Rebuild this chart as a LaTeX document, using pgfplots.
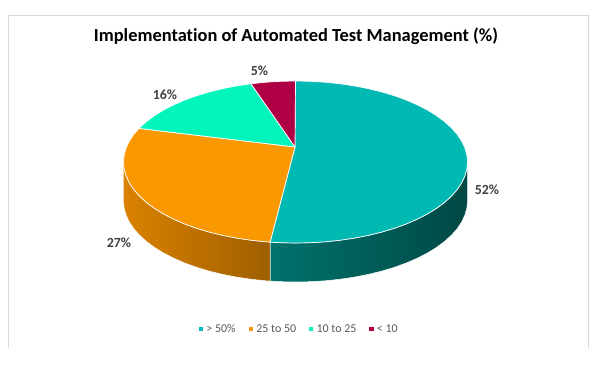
\documentclass[border=0pt]{standalone}
\usepackage{pgfplots}
\pgfplotsset{compat=1.18}
\usepackage{fontspec}
\setmainfont{Carlito}[Ligatures=NoCommon]
\definecolor{cTeal}{RGB}{0,185,178}
\definecolor{cOrange}{RGB}{249,152,0}
\definecolor{cMint}{RGB}{2,245,187}
\definecolor{cCrimson}{RGB}{176,0,69}
\definecolor{cTealL}{RGB}{0,114,109}
\definecolor{cTealD}{RGB}{0,72,68}
\definecolor{cOrangeL}{RGB}{218,130,0}
\definecolor{cOrangeD}{RGB}{158,94,0}
\definecolor{cLabel}{RGB}{64,64,64}
\definecolor{cLegend}{RGB}{89,89,89}
\definecolor{cFrame}{RGB}{217,217,217}
\newcommand{\lgap}{\rule{9.5bp}{0pt}}
\begin{document}
\begin{tikzpicture}
\begin{axis}[
  width=595bp, height=370bp, scale only axis,
  xmin=0, xmax=595, ymin=0, ymax=370, y dir=reverse,
  hide axis, clip=false,
  legend image code/.code={\fill[#1,draw=none] (0bp,-2.1bp) rectangle (4.2bp,2.1bp);},
  legend columns=4,
  legend style={at={(axis cs:300,329)}, anchor=center, draw=none, fill=none,
    font=\fontsize{12}{14}\selectfont\color{cLegend},
    column sep=0pt,
    nodes={inner xsep=3.4bp, inner ysep=1bp}},
]
% background and frame
\addplot[fill=white, draw=none, forget plot] coordinates {(0,0) (595,0) (595,370) (0,370)} -- cycle;
\addplot[draw=cFrame, line width=0.8bp, forget plot] coordinates {(8,348) (8,15) (588,15) (588,348)};
% side of the > 50% slice
\addplot[draw=white, line width=0.5bp, left color=cTealL, middle color=cTealD, right color=cTealD, forget plot] coordinates {
(467.5,162) (466.85,169.06) (464.89,176.06) (461.63,182.96) (457.13,189.7) (451.38,196.23) (444.45,202.5) (436.4,208.46) (427.25,214.07) (417.12,219.28) (406.06,224.05) (394.16,228.36) (381.5,232.15) (368.19,235.41) (354.32,238.12) (340.01,240.24) (325.36,241.77) (310.5,242.69) (295.5,243) (280.5,242.69) (270.08,242.11)
(270.08,281.11) (280.5,281.69) (295.5,282) (310.5,281.69) (325.36,280.77) (340.01,279.24) (354.32,277.12) (368.19,274.41) (381.5,271.15) (394.16,267.36) (406.06,263.05) (417.12,258.28) (427.25,253.07) (436.4,247.46) (444.45,241.5) (451.38,235.23) (457.13,228.7) (461.63,221.96) (464.89,215.06) (466.85,208.06) (467.5,201)} -- cycle;
% side of the 25 to 50 slice
\addplot[draw=white, line width=0.5bp, left color=cOrangeL, right color=cOrangeD, forget plot] coordinates {
(270.08,242.11) (265.64,241.77) (250.99,240.24) (236.68,238.12) (222.81,235.41) (209.5,232.15) (196.84,228.36) (184.94,224.05) (173.88,219.28) (163.75,214.07) (154.6,208.46) (146.55,202.5) (139.62,196.23) (133.87,189.7) (129.37,182.96) (126.11,176.06) (124.15,169.06) (123.5,162)
(123.5,201) (124.15,208.06) (126.11,215.06) (129.37,221.96) (133.87,228.7) (139.62,235.23) (146.55,241.5) (154.6,247.46) (163.75,253.07) (173.88,258.28) (184.94,263.05) (196.84,267.36) (209.5,271.15) (222.81,274.41) (236.68,277.12) (250.99,279.24) (265.64,280.77) (270.08,281.11)} -- cycle;
% top faces: > 50% = 52
\addplot[fill=cTeal, draw=white, line width=0.7bp] coordinates {
(295,147) (295.5,81) (310.5,81.31) (325.36,82.23) (340.01,83.76) (354.32,85.88) (368.19,88.59) (381.5,91.85) (394.16,95.64) (406.06,99.95) (417.12,104.72) (427.25,109.93) (436.4,115.54) (444.45,121.5) (451.38,127.77) (457.13,134.3) (461.63,141.04) (464.89,147.94) (466.85,154.94) (467.5,162) (466.85,169.06) (464.89,176.06) (461.63,182.96) (457.13,189.7) (451.38,196.23) (444.45,202.5) (436.4,208.46) (427.25,214.07) (417.12,219.28) (406.06,224.05) (394.16,228.36) (381.5,232.15) (368.19,235.41) (354.32,238.12) (340.01,240.24) (325.36,241.77) (310.5,242.69) (295.5,243) (280.5,242.69) (270.08,242.11)} -- cycle;
\addlegendentry{> 50\%\lgap}
% 25 to 50 = 27
\addplot[fill=cOrange, draw=white, line width=0.7bp] coordinates {
(295,147) (270.08,242.11) (265.64,241.77) (250.99,240.24) (236.68,238.12) (222.81,235.41) (209.5,232.15) (196.84,228.36) (184.94,224.05) (173.88,219.28) (163.75,214.07) (154.6,208.46) (146.55,202.5) (139.62,196.23) (133.87,189.7) (129.37,182.96) (126.11,176.06) (124.15,169.06) (123.5,162) (124.15,154.94) (126.11,147.94) (129.37,141.04) (133.87,134.3) (138.98,128.41)} -- cycle;
\addlegendentry{25 to 50\lgap}
% 10 to 25 = 16
\addplot[fill=cMint, draw=white, line width=0.7bp] coordinates {
(295,147) (138.98,128.41) (139.62,127.77) (146.55,121.5) (154.6,115.54) (163.75,109.93) (173.88,104.72) (184.94,99.95) (196.84,95.64) (209.5,91.85) (222.81,88.59) (236.68,85.88) (250.99,83.76)} -- cycle;
\addlegendentry{10 to 25\lgap}
% < 10 = 5
\addplot[fill=cCrimson, draw=white, line width=0.7bp] coordinates {
(295,147) (250.99,83.76) (265.64,82.23) (280.5,81.31) (295.5,81)} -- cycle;
\addlegendentry{< 10}
% title and data labels
\node[anchor=base, font=\fontsize{18.5}{22}\selectfont\bfseries] at (axis cs:296,41) {Implementation of Automated Test Management (\%)};
\node[anchor=base, font=\fontsize{14}{16}\selectfont\bfseries, text=cLabel] at (axis cs:487,194) {52\%};
\node[anchor=base, font=\fontsize{14}{16}\selectfont\bfseries, text=cLabel] at (axis cs:119,247) {27\%};
\node[anchor=base, font=\fontsize{14}{16}\selectfont\bfseries, text=cLabel] at (axis cs:165,99) {16\%};
\node[anchor=base, font=\fontsize{14}{16}\selectfont\bfseries, text=cLabel] at (axis cs:259.5,75) {5\%};
\end{axis}
\end{tikzpicture}
\end{document}
